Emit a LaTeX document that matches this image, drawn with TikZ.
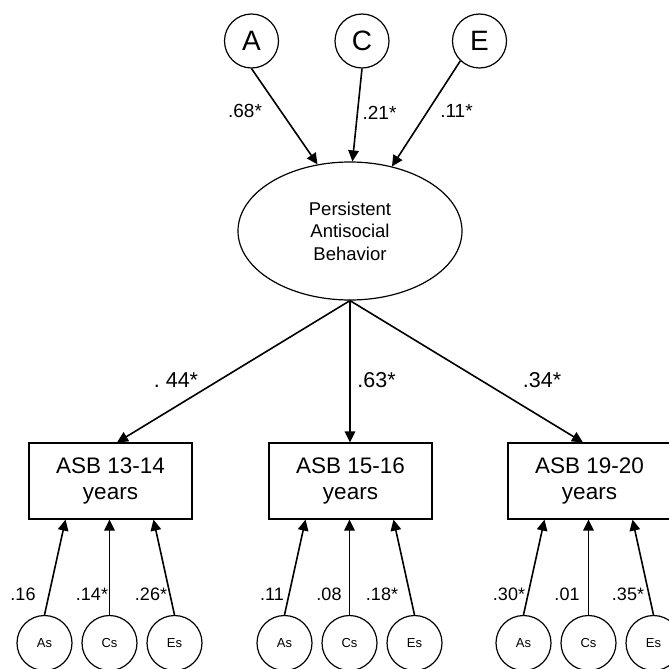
\documentclass[tikz,border=0pt]{standalone}
\usepackage{fontspec}
\setmainfont{Liberation Sans}
\usetikzlibrary{shapes.geometric,arrows.meta}
\begin{document}
\begin{tikzpicture}[x=1pt,y=-1pt,
  line width=1.2pt,
  arr/.style={line width=1.6pt,-{Triangle[length=11pt,width=10.5pt]}},
  bigcirc/.style={circle,draw,minimum size=54pt,inner sep=0pt,font=\fontsize{28}{30}\selectfont},
  smallcirc/.style={circle,draw,minimum size=55pt,inner sep=0pt,font=\fontsize{13}{15}\selectfont},
  latent/.style={ellipse,draw,minimum width=224pt,minimum height=138pt,inner sep=0pt,align=center,font=\fontsize{18.5}{22.5}\selectfont},
  obsbox/.style={rectangle,draw,minimum width=163pt,minimum height=76pt,inner sep=0pt,align=center,font=\fontsize{22.5}{26}\selectfont},
  toplab/.style={inner sep=0pt,font=\fontsize{19}{21}\selectfont},
  midlab/.style={inner sep=0pt,font=\fontsize{21.5}{24}\selectfont},
  botlab/.style={inner sep=0pt,font=\fontsize{18}{20}\selectfont}]
\useasboundingbox (0,0) rectangle (669,669);

% top latent factors
\node[bigcirc] (A) at (251.5,41) {A};
\node[bigcirc] (C) at (362,41) {C};
\node[bigcirc] (E) at (479.5,41) {E};

\node[latent] (ell) at (350,231) {Persistent\\Antisocial\\Behavior};

\draw[arr] (A.south) -- (ell.116);
\draw[arr] (C.south) -- (ell.88);
\draw[arr] (E.226) -- (ell.57);

\node[toplab] (l68) at (245,111) {.68*};
\node[toplab] (l21) at (379.5,112.5) {.21*};
\node[toplab] (l11) at (456.5,110.5) {.11*};

% observed boxes
\node[obsbox] (b1) at (110.5,481) {ASB 13-14\\years};
\node[obsbox] (b2) at (350.5,481) {ASB 15-16\\years};
\node[obsbox] (b3) at (589.5,481) {ASB 19-20\\years};

\draw[arr] (ell.south) -- ([xshift=6.5pt]b1.north);
\draw[arr] (ell.south) -- ([xshift=-0.5pt]b2.north);
\draw[arr] (ell.south) -- ([xshift=-6.5pt]b3.north);

\node[midlab] (l44) at (176,380.5) {.\ 44*};
\node[midlab] (l63) at (376.5,380.5) {.63*};
\node[midlab] (l34) at (542,380.5) {.34*};

% specific factors
\foreach \b/\cx in {1/110.5,2/350.5,3/589.5}{
  \node[smallcirc] (As\b) at (\cx-66,643) {As};
  \node[smallcirc] (Cs\b) at (\cx-1,643) {Cs};
  \node[smallcirc] (Es\b) at (\cx+64,643) {Es};
  \draw[arr] (As\b.north) -- ([xshift=-45pt]b\b.south);
  \draw[arr] (Cs\b.north) -- ([xshift=-1pt]b\b.south);
  \draw[arr] (Es\b.north) -- ([xshift=43pt]b\b.south);
}

\node[botlab] (g1a) at (23,594) {.16};
\node[botlab] (g1c) at (92,594) {.14*};
\node[botlab] (g1e) at (151,594) {.26*};
\node[botlab] (g2a) at (272,594) {.11};
\node[botlab] (g2c) at (329,594) {.08};
\node[botlab] (g2e) at (382,594) {.18*};
\node[botlab] (g3a) at (509,594) {.30*};
\node[botlab] (g3c) at (567,594) {.01};
\node[botlab] (g3e) at (628,594) {.35*};
\end{tikzpicture}
\end{document}
